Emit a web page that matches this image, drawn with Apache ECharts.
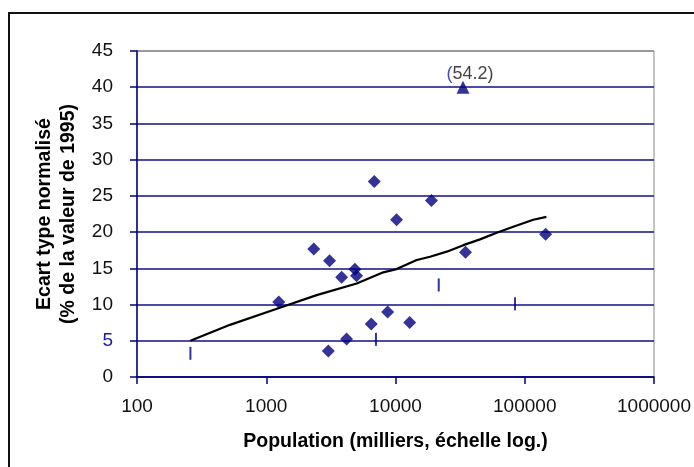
<!DOCTYPE html>
<html>
<head>
<meta charset="utf-8">
<script src="https://cdn.jsdelivr.net/npm/echarts@6/dist/echarts.min.js"></script>
<style>
html,body{margin:0;padding:0;background:#fff;}
#c{width:694px;height:467px;}
</style>
</head>
<body>
<div id="c"></div>
<script>
// Data
var populations = [1250, 2330, 3090, 3830, 4850, 5000, 3020, 4180, 6490, 8690, 12880, 6850, 10190, 18970, 34800, 145000];
var ecartValues = [10.35, 17.67, 16.05, 13.78, 14.87, 13.98, 3.6, 5.25, 7.3, 8.97, 7.52, 27.0, 21.7, 24.37, 17.23, 19.7];
var outlierPop = [33300];
var outlierVal = [40];
var outlierLabel = ['(54.2)'];
var markPop = [259, 7060, 21600, 84100];
var markVal = [3.27, 5.2, 12.7, 10.1];
var trendPop = [259, 524, 1240, 2455, 5010, 8050, 10190, 14600, 18500, 24900, 33500, 45100, 60700, 81500, 116400, 147000];
var trendVal = [5.0, 7.2, 9.5, 11.3, 12.9, 14.45, 14.9, 16.15, 16.6, 17.3, 18.2, 19.0, 19.9, 20.75, 21.7, 22.1];
var yTicks = [0, 5, 10, 15, 20, 25, 30, 35, 40, 45];

function zip(a, b) { return a.map(function (v, i) { return [v, b[i]]; }); }

var NAVY = '#000080';
var FONT = 'Liberation Sans, Arial, sans-serif';
var chart = echarts.init(document.getElementById('c'), null, {renderer: 'canvas'});
var splitColors = yTicks.map(function (t) { return t === 45 ? '#8a8a8a' : '#10108a'; });

chart.setOption({
  backgroundColor: '#fff',
  animation: false,
  graphic: [{
    type: 'rect', silent: true, z: -1,
    shape: {x: 9, y: 13, width: 720, height: 500},
    style: {fill: 'none', stroke: '#111', lineWidth: 2}
  }],
  grid: {left: 137, top: 51, right: 40, bottom: 90, show: true, borderColor: '#8a8a8a', borderWidth: 1, backgroundColor: 'transparent'},
  xAxis: {
    type: 'log', logBase: 10, min: 100, max: 1000000,
    name: 'Population (milliers, échelle log.)',
    nameLocation: 'middle', nameGap: 55,
    nameTextStyle: {fontFamily: FONT, fontSize: 19.5, fontWeight: 'bold', color: '#000'},
    axisLine: {show: true, lineStyle: {color: NAVY, width: 1.5}},
    axisTick: {show: true, length: 7, lineStyle: {color: NAVY, width: 1.5}},
    axisLabel: {fontFamily: FONT, fontSize: 19, color: '#111', margin: 20,
      formatter: function (v) { return String(Math.round(v)); }},
    splitLine: {show: false},
    minorTick: {show: false}
  },
  yAxis: {
    type: 'value', min: 0, max: 45, interval: 5,
    name: 'Ecart type normalisé\n(% de la valeur de 1995)',
    nameLocation: 'middle', nameGap: 55, nameRotate: 90,
    nameTextStyle: {fontFamily: FONT, fontSize: 19.5, fontWeight: 'bold', color: '#000', lineHeight: 24},
    axisLine: {show: true, lineStyle: {color: NAVY, width: 1.5}},
    axisTick: {show: true, length: 7, lineStyle: {color: NAVY, width: 1.5}},
    axisLabel: {fontFamily: FONT, fontSize: 19, color: '#111', margin: 24,
      formatter: function (v) { return v === 5 ? '{b|5}' : String(v); },
      rich: {b: {color: '#1c1ca0', fontFamily: FONT, fontSize: 19}}},
    splitLine: {show: true, lineStyle: {color: splitColors, width: 1.5}}
  },
  series: [
    {
      type: 'line', data: zip(trendPop, trendVal), symbol: 'none', smooth: false,
      lineStyle: {color: '#000', width: 2.2}, z: 3
    },
    {
      type: 'scatter', data: zip(populations, ecartValues), symbol: 'diamond', symbolSize: 13,
      itemStyle: {color: NAVY}, z: 4
    },
    {
      type: 'scatter', data: zip(outlierPop, outlierVal), symbol: 'triangle', symbolSize: 13,
      itemStyle: {color: NAVY}, z: 4,
      label: {show: true, position: 'top', distance: 0, offset: [7, 2],
        formatter: function (p) {
          var t = outlierLabel[p.dataIndex];
          return '{p|' + t.charAt(0) + '}{n|' + t.slice(1) + '}';
        },
        rich: {p: {color: '#1c1ca0', fontFamily: FONT, fontSize: 18}, n: {color: '#111', fontFamily: FONT, fontSize: 18}}}
    },
    {
      type: 'scatter', data: zip(markPop, markVal), symbol: 'rect', symbolSize: [2, 13],
      itemStyle: {color: NAVY}, z: 4
    }
  ]
});
</script>
</body>
</html>
